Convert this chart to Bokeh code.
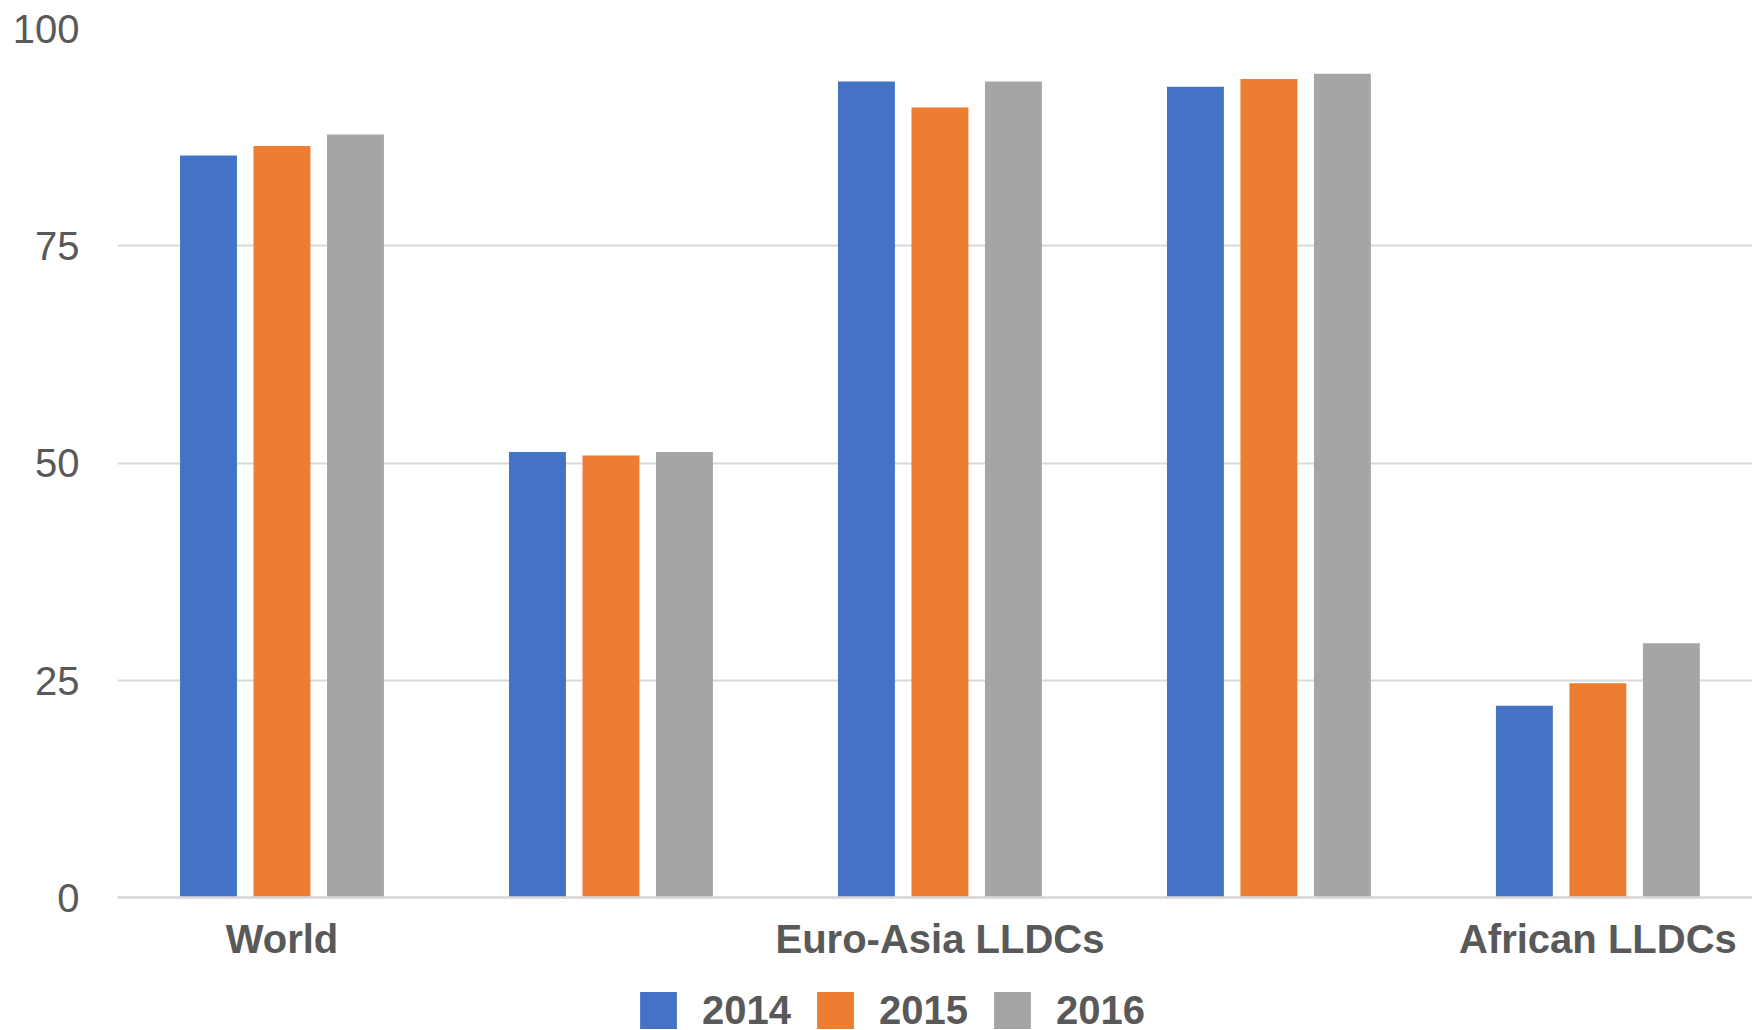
from bokeh.plotting import figure
from bokeh.models import Range1d, FixedTicker, Legend, LegendItem, ColumnDataSource
from bokeh.embed import file_html
from bokeh.resources import INLINE

categories = ["World", "LLDCs", "Euro-Asia LLDCs", "Latin American LLDCs", "African LLDCs"]
shown_labels = ["World", "Euro-Asia LLDCs", "African LLDCs"]
years = ["2014", "2015", "2016"]
v2014 = [85.4, 51.3, 93.9, 93.3, 22.1]
v2015 = [86.5, 50.9, 90.9, 94.2, 24.7]
v2016 = [87.8, 51.3, 93.9, 94.8, 29.3]
colors = ["#4472C4", "#ED7D31", "#A5A5A5"]
y_ticks = [0, 25, 50, 75, 100]

W, H = 1752, 1030
p = figure(width=W, height=H, output_backend="svg", toolbar_location=None,
           x_range=Range1d(0, 4.97), y_range=Range1d(-15.24, 100),
           min_border_left=117, min_border_right=0, min_border_top=28,
           min_border_bottom=0)
p.outline_line_color = None
p.background_fill_color = "white"
p.border_fill_color = "white"

centers = [i + 0.5 for i in range(len(categories))]
offsets = [-0.2234, 0.0, 0.2234]
series = [v2014, v2015, v2016]
renderers = []
for yr, vals, off, col in zip(years, series, offsets, colors):
    src = ColumnDataSource(dict(x=[c + off for c in centers], top=vals))
    r = p.vbar(x="x", top="top", width=0.173, bottom=0, source=src,
               fill_color=col, line_color=None)
    renderers.append(r)

# axes
p.xaxis.fixed_location = 0
p.xaxis.ticker = FixedTicker(ticks=[centers[categories.index(l)] for l in shown_labels])
p.xaxis.major_label_overrides = {centers[categories.index(l)]: l for l in shown_labels}
p.xaxis.major_tick_line_color = None
p.xaxis.minor_tick_line_color = None
p.xaxis.axis_line_color = "#D9D9D9"
p.xaxis.axis_line_width = 2.5
p.xaxis.major_label_text_font = "Liberation Sans"
p.xaxis.major_label_text_font_style = "bold"
p.xaxis.major_label_text_font_size = "40px"
p.xaxis.major_label_text_color = "#595959"
p.xaxis.major_label_standoff = 13

p.yaxis.ticker = FixedTicker(ticks=y_ticks)
p.yaxis.major_tick_line_color = None
p.yaxis.minor_tick_line_color = None
p.yaxis.axis_line_color = None
p.yaxis.major_label_text_font = "Liberation Sans"
p.yaxis.major_label_text_font_size = "40px"
p.yaxis.major_label_text_color = "#595959"
p.yaxis.major_label_standoff = 32

p.xgrid.grid_line_color = None
p.ygrid.ticker = FixedTicker(ticks=y_ticks)
p.ygrid.grid_line_color = "#D9D9D9"
p.ygrid.grid_line_width = 2

legend = Legend(items=[LegendItem(label=yr, renderers=[r]) for yr, r in zip(years, renderers)],
                orientation="horizontal", location=(518, -3))
legend.glyph_width = 46
legend.glyph_height = 46
legend.label_standoff = 21
legend.spacing = 21
legend.padding = 0
legend.margin = 0
legend.border_line_color = None
legend.background_fill_alpha = 0
legend.label_text_font = "Liberation Sans"
legend.label_text_font_style = "bold"
legend.label_text_font_size = "40px"
legend.label_text_color = "#595959"
p.add_layout(legend, "center")

open("out.html", "w").write(file_html(p, INLINE))
